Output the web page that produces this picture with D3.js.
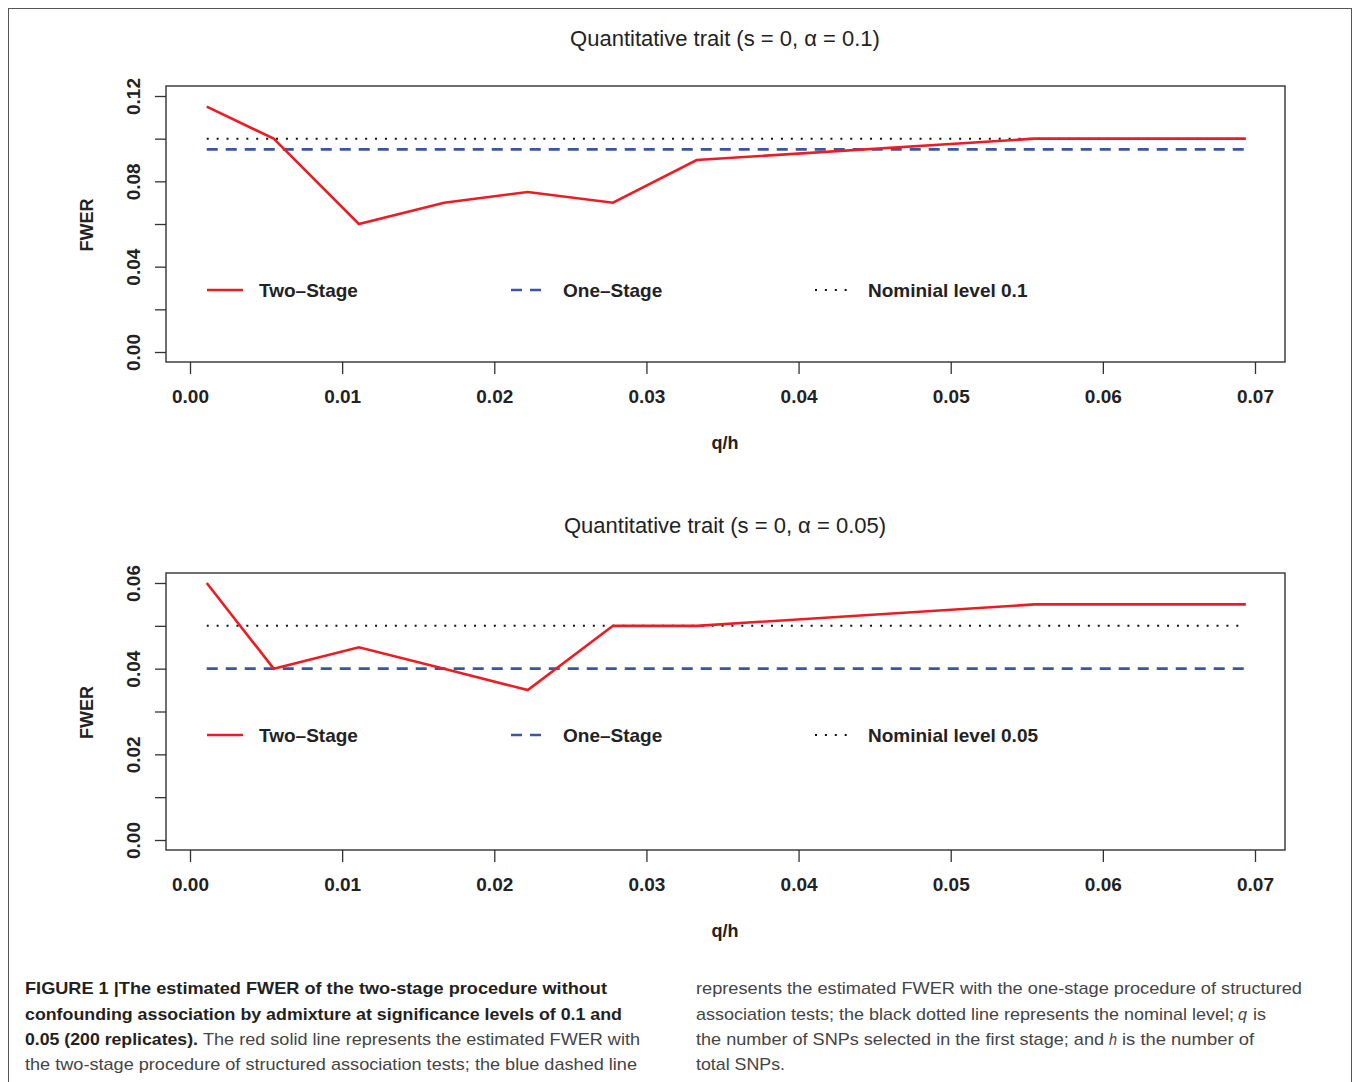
<!DOCTYPE html>
<html>
<head>
<meta charset="utf-8">
<script src="https://cdn.jsdelivr.net/npm/d3@7"></script>
<style>
  body { margin: 0; background: #fff; }
  svg { display: block; font-family: "Liberation Sans", Arial, Helvetica, sans-serif; }
</style>
</head>
<body>
<svg id="chart" width="1356" height="1082"></svg>
<script>
// q/h values (x)
var qh = [0.0011, 0.0055, 0.0111, 0.0167, 0.0222, 0.0278, 0.0333, 0.0555, 0.0694];

// estimated FWER, alpha = 0.1
var twoStage10 = [0.115, 0.100, 0.060, 0.070, 0.075, 0.070, 0.090, 0.100, 0.100];
var oneStage10 = 0.095;
var nominal10 = 0.1;

// estimated FWER, alpha = 0.05
var twoStage05 = [0.060, 0.040, 0.045, 0.040, 0.035, 0.050, 0.050, 0.055, 0.055];
var oneStage05 = 0.040;
var nominal05 = 0.05;

var xTicks = [0, 0.01, 0.02, 0.03, 0.04, 0.05, 0.06, 0.07];
var yTicks10 = [0, 0.02, 0.04, 0.06, 0.08, 0.10, 0.12];
var yTicks05 = [0, 0.01, 0.02, 0.03, 0.04, 0.05, 0.06];
var legendLabels = ['Two\u2013Stage', 'One\u2013Stage'];

var RED = '#ed1c24', BLUE = '#3b55a6', INK = '#222';

var svg = d3.select('#chart');

// outer frame of the figure
svg.append('rect')
	.attr('x', 8.5).attr('y', 8.5)
	.attr('width', 1343).attr('height', 1090)
	.attr('fill', 'none').attr('stroke', '#555').attr('stroke-width', 1);

function drawPanel(cfg) {
	var g = svg.append('g');
	var box = cfg.box;

	var x = d3.scaleLinear().domain([0, 0.07]).range([190, 1255]);
	var y = d3.scaleLinear().domain([0, cfg.yMax]).range(cfg.yRange);

	// title
	g.append('text')
		.attr('x', 725).attr('y', cfg.titleY)
		.attr('text-anchor', 'middle')
		.attr('font-size', 22).attr('fill', INK)
		.text(cfg.title);

	// x axis
	var xAxis = g.append('g')
		.attr('transform', 'translate(0,' + box.y1 + ')')
		.call(d3.axisBottom(x).tickValues(xTicks).tickSize(12).tickFormat(d3.format('.2f')));
	xAxis.select('.domain').remove();
	xAxis.selectAll('.tick line').attr('stroke', '#333').attr('stroke-width', 1.3);
	xAxis.selectAll('.tick text')
		.attr('y', 41).attr('dy', 0)
		.attr('font-size', 19).attr('font-weight', 'bold')
		.attr('font-family', '"Liberation Sans", Arial, sans-serif')
		.attr('fill', INK);

	// y axis, rotated labels, every other tick labelled
	var yAxis = g.append('g')
		.attr('transform', 'translate(' + box.x0 + ',0)')
		.call(d3.axisLeft(y).tickValues(cfg.yTicks).tickSize(11)
			.tickFormat(function (d, i) { return i % 2 === 0 ? d3.format('.2f')(d) : ''; }));
	yAxis.select('.domain').remove();
	yAxis.selectAll('.tick line').attr('stroke', '#333').attr('stroke-width', 1.3);
	yAxis.selectAll('.tick text')
		.attr('x', 0).attr('y', -26).attr('dy', 0)
		.attr('transform', 'rotate(-90)')
		.attr('text-anchor', 'middle')
		.attr('font-size', 19).attr('font-weight', 'bold')
		.attr('font-family', '"Liberation Sans", Arial, sans-serif')
		.attr('fill', INK);

	// axis titles
	g.append('text')
		.attr('x', 725).attr('y', box.y1 + 87)
		.attr('text-anchor', 'middle')
		.attr('font-size', 18).attr('font-weight', 'bold').attr('fill', INK)
		.text('q/h');
	g.append('text')
		.attr('transform', 'translate(93,' + ((box.y0 + box.y1) / 2 + 1) + ') rotate(-90)')
		.attr('text-anchor', 'middle')
		.attr('font-size', 18).attr('font-weight', 'bold').attr('fill', INK)
		.text('FWER');

	// reference lines
	var x0 = x(qh[0]), x1 = x(qh[qh.length - 1]);
	g.append('line')
		.attr('x1', x0).attr('x2', x1)
		.attr('y1', y(cfg.nominal)).attr('y2', y(cfg.nominal))
		.attr('stroke', '#111').attr('stroke-width', 2)
		.attr('stroke-dasharray', '2,7.9');
	g.append('line')
		.attr('x1', x0).attr('x2', x1)
		.attr('y1', y(cfg.oneStage)).attr('y2', y(cfg.oneStage))
		.attr('stroke', BLUE).attr('stroke-width', 2.6)
		.attr('stroke-dasharray', '11,8');

	// two-stage curve
	var line = d3.line()
		.x(function (d, i) { return x(qh[i]); })
		.y(function (d) { return y(d); });
	g.append('path')
		.datum(cfg.twoStage)
		.attr('d', line)
		.attr('fill', 'none')
		.attr('stroke', RED).attr('stroke-width', 2.6)
		.attr('stroke-linejoin', 'miter');

	// plot box
	g.append('rect')
		.attr('x', box.x0).attr('y', box.y0)
		.attr('width', box.x1 - box.x0).attr('height', box.y1 - box.y0)
		.attr('fill', 'none').attr('stroke', '#333').attr('stroke-width', 1.4);

	// legend (one row)
	var ly = cfg.legendY;
	var lg = g.append('g');
	lg.append('line').attr('x1', 207).attr('x2', 243).attr('y1', ly).attr('y2', ly)
		.attr('stroke', RED).attr('stroke-width', 2.6);
	lg.append('line').attr('x1', 511).attr('x2', 541).attr('y1', ly).attr('y2', ly)
		.attr('stroke', BLUE).attr('stroke-width', 2.6).attr('stroke-dasharray', '11,8');
	lg.append('line').attr('x1', 815).attr('x2', 850).attr('y1', ly).attr('y2', ly)
		.attr('stroke', '#111').attr('stroke-width', 2).attr('stroke-dasharray', '2,7.9');
	var labels = legendLabels.concat(['Nominial level ' + cfg.nominal]);
	[259, 563, 868].forEach(function (lx, i) {
		lg.append('text')
			.attr('x', lx).attr('y', ly + 7)
			.attr('font-size', 19).attr('font-weight', 'bold').attr('fill', INK)
			.text(labels[i]);
	});
}

drawPanel({
	title: 'Quantitative trait (s = 0, \u03b1 = 0.1)',
	titleY: 46,
	box: {x0: 166, x1: 1285, y0: 86, y1: 362},
	yMax: 0.12, yRange: [352, 96], yTicks: yTicks10,
	twoStage: twoStage10, oneStage: oneStage10, nominal: nominal10,
	legendY: 290
});

drawPanel({
	title: 'Quantitative trait (s = 0, \u03b1 = 0.05)',
	titleY: 533,
	box: {x0: 166, x1: 1285, y0: 573, y1: 850},
	yMax: 0.06, yRange: [840, 583], yTicks: yTicks05,
	twoStage: twoStage05, oneStage: oneStage05, nominal: nominal05,
	legendY: 735
});

// caption, two columns
var cap = svg.append('g').attr('font-size', 17);
var capLines = [
	// [x, baseline, width, text, bold, italic]
	[25, 994, 582, 'FIGURE 1 |The estimated FWER of the two-stage procedure without', true],
	[25, 1019.5, 597, 'confounding association by admixture at significance levels of 0.1 and', true],
	[25, 1045, 173, '0.05 (200 replicates).', true],
	[203, 1045, 437, 'The red solid line represents the estimated FWER with', false],
	[25, 1070, 612, 'the two-stage procedure of structured association tests; the blue dashed line', false],
	[696, 994, 606, 'represents the estimated FWER with the one-stage procedure of structured', false],
	[696, 1019.5, 538, 'association tests; the black dotted line represents the nominal level;', false],
	[1238, 1019.5, 9, 'q', false, true],
	[1253, 1019.5, 13, 'is', false],
	[696, 1045, 408, 'the number of SNPs selected in the first stage; and', false],
	[1109, 1045, 8, 'h', false, true],
	[1122, 1045, 132, 'is the number of', false],
	[696, 1070, 89, 'total SNPs.', false]
];
capLines.forEach(function (c) {
	cap.append('text')
		.attr('x', c[0]).attr('y', c[1])
		.attr('textLength', c[2]).attr('lengthAdjust', 'spacingAndGlyphs')
		.attr('font-weight', c[4] ? 'bold' : 'normal')
		.attr('font-style', c[5] ? 'italic' : 'normal')
		.attr('fill', c[4] ? '#231f20' : '#444')
		.text(c[3]);
});
</script>
</body>
</html>
